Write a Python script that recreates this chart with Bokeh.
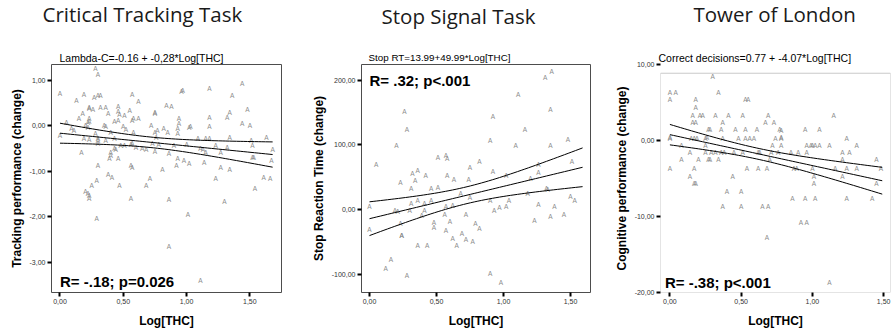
import numpy as np
from bokeh.plotting import figure
from bokeh.layouts import row
from bokeh.models import (Range1d, FixedTicker, CustomJSTickFormatter, Label,
                          BoxAnnotation, ColumnDataSource, Title)
from bokeh.core.properties import value
from bokeh.embed import file_html
from bokeh.resources import INLINE

# ---------------------------------------------------------------- data
x_ticks = [0.0, 0.5, 1.0, 1.5]

# Critical Tracking Task: Log[THC] vs change in tracking performance
ctt_log_thc = [
    0.28, 0.30, 1.44, 0.00, 0.19, 0.57, 0.27, 0.30, 0.32, 0.96,
    0.97, 1.18, 1.36, 0.13, 0.62, 0.23, 0.23, 0.32, 0.36, 0.46,
    0.84, 0.88, 1.48, 0.26, 0.55, 0.75, 0.75, 1.34, 0.18, 0.38,
    0.46, 0.47, 0.51, 0.15, 0.23, 0.58, 0.62, 0.57, 0.94, 0.94,
    1.18, 1.32, 0.05, 0.22, 0.23, 0.43, 0.46, 0.20, 0.22, 0.35,
    0.36, 0.50, 0.72, 1.18, 1.44, 1.50, 1.02, 1.03, 0.82, 0.77,
    0.93, 0.52, 0.09, 0.11, 0.40, 0.58, 0.75, 0.85, 0.00, 0.28,
    0.93, 0.19, 0.23, 0.30, 0.30, 0.36, 0.43, 0.76, 1.15, 1.18,
    1.09, 1.34, 1.51, 1.63, 0.48, 0.51, 0.56, 0.60, 0.65, 0.68,
    0.78, 0.73, 0.90, 1.00, 1.11, 1.13, 1.23, 1.32, 1.52, 1.68,
    0.43, 0.44, 0.40, 0.40, 0.17, 0.30, 0.57, 1.27, 0.86, 1.15,
    0.39, 0.46, 0.75, 0.93, 0.98, 1.02, 0.92, 1.14, 1.52, 1.53,
    1.67, 0.30, 0.56, 0.57, 0.81, 1.27, 1.34, 0.38, 0.41, 0.71,
    1.23, 1.61, 1.66, 0.29, 0.25, 0.47, 0.68, 1.54, 0.20, 0.22,
    0.23, 0.23, 0.56, 0.86, 1.30, 1.01, 0.29, 0.86, 1.11,
]
ctt_change = [
    1.27, 1.13, 0.94, 0.72, 0.70, 0.70, 0.63, 0.66, 0.66, 0.76,
    0.77, 0.83, 0.66, 0.57, 0.54, 0.41, 0.38, 0.41, 0.41, 0.43,
    0.45, 0.43, 0.36, 0.36, 0.34, 0.30, 0.27, 0.30, 0.27, 0.27,
    0.32, 0.25, 0.22, 0.16, 0.17, 0.16, 0.16, 0.12, 0.16, 0.05,
    0.19, 0.19, 0.08, 0.07, 0.10, 0.10, 0.12, 0.01, -0.03, 0.01,
    -0.02, -0.01, 0.01, -0.01, 0.05, 0.01, -0.03, -0.01, -0.06, -0.10,
    -0.05, -0.08, -0.05, -0.10, -0.15, -0.15, -0.15, -0.15, -0.21, -0.17,
    -0.16, -0.28, -0.30, -0.28, -0.32, -0.32, -0.28, -0.25, -0.28, -0.27,
    -0.28, -0.25, -0.32, -0.25, -0.44, -0.44, -0.41, -0.47, -0.50, -0.52,
    -0.41, -0.39, -0.44, -0.41, -0.49, -0.52, -0.44, -0.47, -0.44, -0.52,
    -0.49, -0.52, -0.58, -0.65, -0.59, -0.39, -0.39, -0.59, -0.60, -0.59,
    -0.72, -0.72, -0.56, -0.72, -0.76, -0.83, -0.87, -0.80, -0.70, -0.70,
    -0.76, -0.87, -0.87, -0.91, -0.96, -0.92, -0.96, -1.07, -1.13, -1.16,
    -1.16, -1.13, -1.16, -1.21, -1.31, -1.32, -1.32, -1.38, -1.45, -1.49,
    -1.53, -1.59, -1.59, -1.62, -1.67, -1.94, -2.03, -2.66, -3.40,
]
ctt_fit = [-0.16, -0.28]          # intercept, slope
ctt_fit_span = [0.0, 1.68]
ctt_y_ticks = [-3, -2, -1, 0, 1]

# Stop Signal Task: Log[THC] vs change in stop reaction time
sst_log_thc = [
    1.31, 1.36, 1.11, 0.26, 0.92, 1.35, 0.28, 1.16, 0.20, 0.90,
    1.09, 1.35, 1.48, 0.05, 0.51, 0.57, 0.58, 0.75, 0.82, 1.51,
    0.32, 0.36, 0.42, 0.58, 0.63, 0.74, 0.92, 1.02, 1.26, 1.26,
    1.20, 0.23, 0.34, 0.31, 0.46, 0.51, 0.68, 0.75, 1.18, 1.32,
    1.33, 1.50, 1.53, 0.00, 0.19, 0.21, 0.31, 0.36, 0.41, 0.46,
    0.57, 0.62, 0.30, 0.90, 0.93, 0.97, 1.02, 1.04, 1.26, 1.38,
    0.41, 0.39, 0.56, 0.72, 0.23, 0.00, 0.24, 0.24, 0.48, 0.48,
    0.60, 0.57, 0.79, 0.82, 0.69, 0.62, 0.72, 0.77, 0.65, 0.36,
    0.43, 1.23, 1.35, 1.45, 0.16, 0.12, 0.28, 0.90, 0.98,
]
sst_change = [
    204.8, 213.0, 178.1, 151.0, 143.8, 155.0, 123.3, 124.3, 99.8, 106.4,
    98.8, 98.8, 109.0, 69.1, 80.9, 84.4, 79.8, 65.5, 74.2, 74.2,
    55.3, 60.4, 52.2, 52.2, 46.6, 46.6, 58.9, 52.2, 69.1, 56.8,
    48.6, 41.5, 45.1, 32.3, 33.3, 33.8, 24.6, 19.5, 24.6, 33.3,
    31.2, 20.5, 14.3, 5.1, -2.0, -3.6, 9.2, 14.3, 10.2, 14.3,
    5.1, 6.1, -1.0, 14.3, -1.0, 3.1, 5.1, 14.3, 7.7, 5.6,
    -2.0, -8.7, -7.2, -7.7, -21.5, -30.7, -39.4, -39.4, -20.0, -27.6,
    -18.9, -32.8, -21.5, -29.2, -36.9, -44.5, -46.1, -49.2, -55.3, -54.8,
    -54.8, -16.4, -10.2, -7.7, -76.8, -90.6, -102.4, -98.3, -112.1,
]
sst_fit = [-13.99, 49.99]
sst_fit_span = [0.0, 1.59]
sst_y_ticks = [-100, 0, 100, 200]

# Tower of London: Log[THC] vs change in correct decisions
tol_log_thc = [
    0.30, 0.00, 0.04, 0.34, 0.00, 0.18, 0.53, 0.55, 0.18, 0.16,
    0.21, 0.23, 0.32, 0.41, 0.51, 0.69, 1.15, 0.16, 0.18, 0.37,
    0.67, 0.73, 0.27, 0.28, 0.36, 0.46, 0.53, 0.61, 0.77, 0.78,
    0.95, 1.05, 0.00, 0.00, 0.15, 0.17, 0.19, 0.25, 0.26, 0.37,
    0.48, 0.53, 0.56, 0.59, 0.74, 0.78, 0.78, 1.24, 0.08, 0.25,
    0.72, 0.78, 0.96, 0.99, 1.00, 1.02, 1.05, 1.12, 1.31, 0.14,
    0.25, 0.29, 0.32, 0.36, 0.38, 0.45, 0.51, 0.62, 0.63, 0.71,
    0.76, 0.85, 0.90, 0.96, 1.21, 1.26, 0.08, 0.20, 0.27, 0.28,
    0.34, 0.70, 1.21, 1.45, 0.00, 0.17, 0.54, 0.62, 0.68, 0.87,
    0.89, 1.00, 1.16, 1.24, 1.31, 1.48, 0.14, 0.44, 1.01, 1.21,
    0.17, 0.18, 1.01, 1.45, 0.40, 0.50, 0.37, 0.50, 0.65, 0.69,
    0.86, 0.95, 1.02, 1.24, 1.42, 0.92, 0.96, 0.68, 1.12,
]
tol_change = [
    8.42, 6.36, 6.36, 6.36, 5.35, 5.35, 5.35, 5.35, 4.39, 3.29,
    3.29, 3.29, 3.29, 3.29, 3.29, 3.29, 3.29, 2.32, 2.32, 2.32,
    2.32, 2.32, 1.40, 1.40, 1.40, 1.40, 1.40, 1.40, 1.40, 1.32,
    1.40, 1.40, 0.22, 0.35, 0.22, 0.22, 0.22, 0.22, 0.35, 0.22,
    0.22, 0.22, 0.22, 0.22, 0.22, 0.22, 0.35, 0.22, -0.66, -0.66,
    -0.66, -0.66, -0.66, -0.66, -0.66, -0.66, -0.66, -0.66, -0.66, -1.62,
    -1.62, -1.62, -1.62, -1.62, -1.62, -1.62, -1.62, -1.62, -1.62, -1.62,
    -1.62, -1.62, -1.62, -1.62, -1.62, -1.62, -2.54, -2.54, -2.54, -2.54,
    -2.54, -2.54, -2.54, -2.54, -3.73, -3.73, -3.73, -3.73, -3.73, -3.73,
    -3.73, -3.73, -3.73, -3.73, -3.73, -3.73, -4.69, -4.69, -4.69, -4.69,
    -5.70, -5.70, -5.70, -5.70, -6.71, -6.71, -8.68, -8.68, -8.68, -8.68,
    -7.68, -7.68, -7.68, -7.68, -7.68, -10.75, -10.75, -12.72, -18.73,
]
tol_fit = [0.77, -4.07]
tol_fit_span = [0.0, 1.49]
tol_y_ticks = [-20, -10, 0, 10]

# ---------------------------------------------------------------- styling
FRAME = "#4d4d4d"
MARK = "#8c8c8c"
SANS = "Liberation Sans"


def fit_with_band(xs, ys, coef, span, t=1.98, npts=60):
    """Regression line from its coefficients plus 95% band of the mean."""
    xs = np.asarray(xs, float)
    ys = np.asarray(ys, float)
    a, b = coef
    n = len(xs)
    resid = ys - (a + b * xs)
    s = np.sqrt((resid ** 2).sum() / (n - 2))
    xbar = xs.mean()
    sxx = ((xs - xbar) ** 2).sum()
    grid = np.linspace(span[0], span[1], npts)
    fit = a + b * grid
    half = t * s * np.sqrt(1.0 / n + (grid - xbar) ** 2 / sxx)
    return grid, fit, fit - half, fit + half


def panel(xs, ys, coef, span, yticks, x_range, y_range, borders,
          title, title_off, subtitle, sub_off, sub_size, sub_standoff,
          gap, ylabel, stat, stat_pos, frame_top=None):
    left, right, top, bottom = borders
    p = figure(width=297, height=335, output_backend="svg",
               toolbar_location=None, title=None,
               x_range=Range1d(*x_range), y_range=Range1d(*y_range),
               min_border_left=left, min_border_right=right,
               min_border_top=top, min_border_bottom=bottom)
    p.background_fill_color = "white"
    p.border_fill_color = "white"
    p.xgrid.visible = False
    p.ygrid.visible = False

    if frame_top is None:
        p.outline_line_color = FRAME
        p.outline_line_width = 1
    else:
        p.outline_line_color = None
        p.add_layout(BoxAnnotation(left=x_range[0], right=x_range[1],
                                   bottom=y_range[0], top=frame_top,
                                   fill_alpha=0, fill_color=None,
                                   line_color=FRAME, line_width=1))

    fmt = CustomJSTickFormatter(code="return tick.toFixed(2).replace('.', ',');")
    for ax, ticks in ((p.xaxis[0], x_ticks), (p.yaxis[0], yticks)):
        ax.ticker = FixedTicker(ticks=ticks)
        ax.formatter = fmt
        ax.axis_line_color = None
        ax.major_tick_line_color = "black"
        ax.major_tick_line_width = 2
        ax.major_tick_out = 4
        ax.major_tick_in = 0
        ax.minor_tick_line_color = None
        ax.major_label_text_font = SANS
        ax.major_label_text_font_size = "7px"
        ax.major_label_text_color = "#333333"
        ax.major_label_standoff = 2
        ax.axis_label_text_font = SANS
        ax.axis_label_text_font_size = "12px"
        ax.axis_label_text_font_style = "bold"
        ax.axis_label_text_color = "black"
    p.xaxis.axis_label = "Log[THC]"
    p.xaxis.axis_label_standoff = 7
    p.yaxis.axis_label = ylabel
    p.yaxis.axis_label_standoff = 3

    # observations drawn as letter markers
    src = ColumnDataSource(dict(x=xs, y=ys))
    p.text(x="x", y="y", text=value("A"), source=src,
           text_font=value(SANS), text_font_size=value("6.5px"),
           text_color=MARK, text_align="center", text_baseline="middle")

    grid, fit, lo, hi = fit_with_band(xs, ys, coef, span)
    for line in (fit, lo, hi):
        p.line(grid, line, line_color="black", line_width=1)

    p.add_layout(Label(x=stat_pos[0], y=stat_pos[1], text=stat,
                       text_font=SANS, text_font_size="15px",
                       text_font_style="bold", text_color="black",
                       text_baseline="middle"))

    # heading block above the frame: equation (padded on top), task name
    p.add_layout(Title(text=subtitle, align="left", offset=sub_off,
                       standoff=sub_standoff, text_font=SANS,
                       text_font_size=sub_size, text_font_style="normal",
                       text_color="black",
                       padding=dict(left=0, right=0, top=gap, bottom=0)),
                 "above")
    p.add_layout(Title(text=title, align="left", offset=title_off,
                       standoff=-6, text_font="Open Sans",
                       text_font_size="20.5px", text_font_style="normal",
                       text_color="#1a1a1a"), "above")
    return p


p1 = panel(ctt_log_thc, ctt_change, ctt_fit, ctt_fit_span, ctt_y_ticks,
           (-0.067, 1.75), (-3.669, 1.353), (51, 16, 64, 42),
           "Critical Tracking Task", -9,
           "Lambda-C=-0.16 + -0,28*Log[THC]", 8, "10.5px", 2, 24,
           "Tracking performance (change)",
           "R= -.18; p=0.026", (0.0, -3.43))

p2 = panel(sst_log_thc, sst_change, sst_fit, sst_fit_span, sst_y_ticks,
           (-0.0597, 1.649), (-128.1, 224.4), (64, 4, 63, 42),
           "Stop Signal Task", 20,
           "Stop RT=13.99+49.99*Log[THC]", 7, "9.8px", 3, 22,
           "Stop Reaction Time (change)",
           "R= .32; p<.001", (0.0, 199.1))

p3 = panel(tol_log_thc, tol_change, tol_fit, tol_fit_span, tol_y_ticks,
           (-0.066, 1.548), (-20.0, 10.0), (66, 1, 64, 43),
           "Tower of London", 33,
           "Correct decisions=0.77 + -4.07*Log[THC]", -2, "10.5px", 2, 24,
           "Cognitive performance (change)",
           "R= -.38; p<.001", (-0.035, -18.68), frame_top=8.85)

layout = row(p1, p2, p3, spacing=0)
open("out.html", "w").write(file_html(layout, INLINE))
